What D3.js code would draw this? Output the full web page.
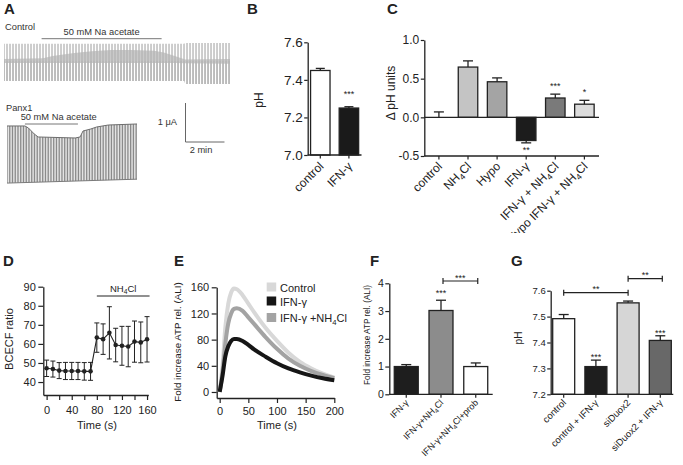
<!DOCTYPE html>
<html><head><meta charset="utf-8">
<script src="https://cdn.jsdelivr.net/npm/d3@7"></script>
<style>
body{margin:0;background:#fff}
svg{display:block}
text{font-family:Arial,"Liberation Sans",Helvetica,sans-serif;fill:#222}
</style>
</head><body>
<svg id="fig" width="683" height="465"></svg>
<script>
// ================= DATA =================
// Panel A – current recordings (time in min, current in µA)
const ctlEnvT   = [0, 9.25, 9.3, 11.6];
const ctlTop    = [0.44, 0.44, 0.46, 0.46];
const ctlBot    = [-0.51, -0.51, -0.59, -0.59];
const ctlBandT  = [0, 2.0, 2.5, 3.5, 4.5, 5.5, 6.5, 7.7, 8.2, 8.8, 9.3, 11.6];
const ctlBandHi = [0.05, 0.07, 0.13, 0.20, 0.25, 0.28, 0.28, 0.26, 0.22, 0.12, 0.04, 0.05];
const ctlBandLo = [-0.05, -0.05, -0.05, -0.05, -0.05, -0.05, -0.05, -0.05, -0.05, -0.05, -0.06, -0.07];
const ctlPulseMin = 0.154;
const ctlAcetate = [1.93, 8.09];
const panxT     = [0, 0.92, 1.1, 1.4, 1.6, 3.5, 3.75, 3.9, 4.3, 4.6, 5.2, 6.67];
const panxTop   = [0.744, 0.744, 0.692, 0.538, 0.462, 0.436, 0.462, 0.615, 0.667, 0.718, 0.769, 0.795];
const panxBotT  = [0, 6.67];
const panxBot   = [-0.72, -0.62];
const panxPulseMin = 0.141;
const panxAcetate = [0.92, 3.64];

// Panel B
const bCats = ["control", "IFN-γ"];
const bVals = [7.45, 7.25];
const bErrs = [0.011, 0.007];
const bTicks = [7.0, 7.2, 7.4, 7.6];

// Panel C
const cCats = ["control", "NH_4Cl", "Hypo", "IFN-γ", "IFN-γ + NH_4Cl", "Hypo IFN-γ + NH_4Cl"];
const cVals = [0, 0.65, 0.46, -0.30, 0.25, 0.17];
const cErrs = [0.07, 0.08, 0.05, 0.03, 0.05, 0.05];
const cStars = ["", "", "", "**", "***", "*"];
const cTicks = [-0.5, 0.0, 0.5, 1.0];

// Panel D
const dTime = [0, 10, 20, 30, 40, 50, 60, 70, 80, 90, 100, 110, 120, 130, 140, 150, 160];
const dVals = [47.2, 46.8, 46.0, 45.8, 45.8, 45.8, 45.6, 45.6, 63.3, 62.5, 65.8, 59.4, 59.0, 58.6, 61.2, 60.8, 62.4];
const dErrs = [4.3, 4.2, 4.2, 4.5, 4.5, 4.5, 4.6, 4.7, 7.7, 8.0, 13.7, 8.8, 10.2, 10.6, 10.8, 10.7, 11.9];
const dYTicks = [40, 50, 60, 70, 80, 90];
const dXTicks = [0, 20, 40, 60, 80, 100, 120, 140, 160];
const dNH4 = [80, 164];

// Panel E
const eTime    = [0, 5, 10, 15, 20, 25, 30, 40, 50, 60, 80, 100, 120, 140, 160, 180, 200];
const eControl = [0, 40, 100, 135, 152, 158, 157, 148, 135, 122, 98, 78, 60, 46, 36, 28, 22];
const eIFN     = [0, 25, 55, 70, 78, 81, 81, 78, 72, 65, 54, 44, 36, 30, 25, 21, 18];
const eIFNNH4  = [0, 30, 75, 105, 120, 127, 128, 124, 114, 104, 84, 66, 51, 40, 32, 26, 21];
const eSeries  = ["Control", "IFN-γ", "IFN-γ +NH_4Cl"];
const eYTicks = [0, 40, 80, 120, 160];
const eXTicks = [0, 50, 100, 150, 200];

// Panel F
const fCats = ["IFN-γ", "IFN-γ+NH_4Cl", "IFN-γ+NH_4Cl+prob"];
const fVals = [1.0, 3.02, 1.0];
const fErrs = [0.07, 0.37, 0.13];
const fStars = ["", "***", ""];
const fTicks = [0, 1, 2, 3, 4];

// Panel G
const gCats = ["control", "control + IFN-γ", "siDuox2", "siDuox2 + IFN-γ"];
const gVals = [7.492, 7.307, 7.553, 7.408];
const gErrs = [0.016, 0.025, 0.007, 0.018];
const gStars = ["", "***", "", "***"];
const gTicks = [7.2, 7.3, 7.4, 7.5, 7.6];

// ================= DRAWING =================
const svg = d3.select("#fig");
const INK = "#222";

function rich(sel, str, fs) {
  const parts = str.split(/(_\d)/).filter(p => p.length);
  let sub = false;
  parts.forEach(p => {
    if (p[0] === "_") {
      sel.append("tspan").attr("font-size", fs * 0.7).attr("dy", fs * 0.25).text(p.slice(1));
      sub = true;
    } else {
      const t = sel.append("tspan").text(p);
      if (sub) { t.attr("dy", -fs * 0.25); sub = false; }
    }
  });
  return sel;
}
function txt(x, y, str, fs, anchor, opts = {}) {
  const t = svg.append("text").attr("x", x).attr("y", y).attr("font-size", fs)
    .attr("text-anchor", anchor || "start");
  if (opts.bold) t.attr("font-weight", "bold");
  if (opts.fill) t.style("fill", opts.fill);
  rich(t, str, fs);
  return t;
}
function vtxt(x, y, str, fs) {
  const t = svg.append("text").attr("transform", `translate(${x},${y}) rotate(-90)`)
    .attr("font-size", fs).attr("text-anchor", "middle");
  rich(t, str, fs);
  return t;
}
function styleAxis(g, fs) {
  g.attr("font-family", null).attr("font-size", null);
  g.selectAll("path.domain").attr("stroke", INK).attr("stroke-width", 1.3);
  g.selectAll(".tick line").attr("stroke", INK).attr("stroke-width", 1.2);
  g.selectAll(".tick text").attr("font-size", fs).style("fill", INK);
}
function panelLabel(t, x, y) { txt(x, y, t, 15, "start", { bold: true }); }

// ---------- Panel A ----------
panelLabel("A", 4, 14);
const xCtl = d3.scaleLinear().domain([0, 11.6]).range([4, 230]);
const yCtl = d3.scaleLinear().domain([-1, 1]).range([100, 22]);
const xPx = d3.scaleLinear().domain([0, 6.67]).range([7, 137]);
const yPx = d3.scaleLinear().domain([-1, 1]).range([194, 116]);
const defs = svg.append("defs");

function envPath(tT, top, bT, bot, xs, ys) {
  const pts = tT.map((t, i) => [xs(t), ys(top[i])])
    .concat(bT.map((t, i) => [xs(t), ys(bot[i])]).reverse());
  return "M" + pts.map(p => p.join(",")).join("L") + "Z";
}
defs.append("clipPath").attr("id", "clipCtl").append("path")
  .attr("d", envPath(ctlEnvT, ctlTop, ctlEnvT, ctlBot, xCtl, yCtl));
defs.append("clipPath").attr("id", "clipPx").append("path")
  .attr("d", envPath(panxT, panxTop, panxBotT, panxBot, xPx, yPx));

txt(5, 29.5, "Control", 9.3, "start", { fill: "#333" });
txt(xCtl((ctlAcetate[0] + ctlAcetate[1]) / 2), 34.5, "50 mM Na acetate", 9.3, "middle", { fill: "#333" });
svg.append("line").attr("x1", xCtl(ctlAcetate[0])).attr("x2", xCtl(ctlAcetate[1]))
  .attr("y1", 38.7).attr("y2", 38.7).attr("stroke", "#777").attr("stroke-width", 1);

const gCtl = svg.append("g").attr("clip-path", "url(#clipCtl)");
const ctlPulses = d3.range(0, 11.6 + 1e-9, ctlPulseMin);
gCtl.selectAll("line.up").data(ctlPulses).join("line").attr("class", "up")
  .attr("x1", d => xCtl(d)).attr("x2", d => xCtl(d))
  .attr("y1", yCtl(1)).attr("y2", yCtl(0))
  .attr("stroke", "#9c9c9c").attr("stroke-width", 1);
gCtl.selectAll("line.dn").data(ctlPulses).join("line").attr("class", "dn")
  .attr("x1", d => xCtl(d)).attr("x2", d => xCtl(d))
  .attr("y1", yCtl(0)).attr("y2", yCtl(-1))
  .attr("stroke", "#7c7c7c").attr("stroke-width", 1);
const bandArea = d3.area().x((d, i) => xCtl(ctlBandT[i])).y0((d, i) => yCtl(ctlBandLo[i])).y1((d, i) => yCtl(ctlBandHi[i]));
svg.append("path").attr("d", bandArea(ctlBandT)).attr("fill", "#b4b4b4").attr("opacity", 0.7);

txt(6, 110.5, "Panx1", 9.3, "start", { fill: "#333" });
txt(20.7, 120.2, "50 mM Na acetate", 9.3, "start", { fill: "#333" });
svg.append("line").attr("x1", xPx(panxAcetate[0])).attr("x2", xPx(panxAcetate[1]))
  .attr("y1", 124).attr("y2", 124).attr("stroke", "#777").attr("stroke-width", 1);
const gPx = svg.append("g").attr("clip-path", "url(#clipPx)");
gPx.append("path").attr("d", envPath(panxT, panxTop, panxBotT, panxBot, xPx, yPx)).attr("fill", "#e4e4e4");
gPx.selectAll("line").data(d3.range(0, 6.67 + 1e-9, panxPulseMin)).join("line")
  .attr("x1", d => xPx(d)).attr("x2", d => xPx(d))
  .attr("y1", yPx(1)).attr("y2", yPx(-1))
  .attr("stroke", "#8a8a8a").attr("stroke-width", 1.3);
svg.append("path").attr("d", d3.line().x((d, i) => xPx(panxT[i])).y(d => yPx(d))(panxTop))
  .attr("fill", "none").attr("stroke", "#6d6d6d").attr("stroke-width", 1);
svg.append("path").attr("d", d3.line().x((d, i) => xPx(panxBotT[i])).y(d => yPx(d))(panxBot))
  .attr("fill", "none").attr("stroke", "#7a7a7a").attr("stroke-width", 1);

// scale bar (1 µA, 2 min)
const sbX = 185.5, sbY = 142;
const sbH = yPx(0) - yPx(1), sbW = xPx(2) - xPx(0);
svg.append("path").attr("d", `M${sbX},${sbY - sbH}V${sbY}H${sbX + sbW}`)
  .attr("fill", "none").attr("stroke", "#666").attr("stroke-width", 1);
txt(177, 125, "1 μA", 9.3, "end", { fill: "#333" });
txt(201, 153, "2 min", 9.3, "middle", { fill: "#333" });

// ---------- generic bar chart ----------
function barChart(o) {
  const x = d3.scaleBand().domain(o.cats).range([o.x0, o.x1]).paddingInner(o.pi).paddingOuter(o.po);
  const y = o.y;
  const base = o.base;
  o.cats.forEach((c, i) => {
    const v = o.vals[i];
    const y0 = y(base), y1 = y(v);
    if (Math.abs(y0 - y1) > 0.1) {
      svg.append("rect").attr("x", x(c)).attr("width", x.bandwidth())
        .attr("y", Math.min(y0, y1)).attr("height", Math.abs(y0 - y1))
        .attr("fill", o.fills[i]).attr("stroke", INK).attr("stroke-width", 1.3);
    }
    const cx = x(c) + x.bandwidth() / 2;
    const ve = v >= base ? v + o.errs[i] : v - o.errs[i];
    svg.append("line").attr("x1", cx).attr("x2", cx).attr("y1", y(v)).attr("y2", y(ve))
      .attr("stroke", INK).attr("stroke-width", 1.3);
    svg.append("line").attr("x1", cx - o.cap / 2).attr("x2", cx + o.cap / 2).attr("y1", y(ve)).attr("y2", y(ve))
      .attr("stroke", INK).attr("stroke-width", 1.3);
  });
  const ya = svg.append("g").attr("transform", `translate(${o.x0},0)`)
    .call(d3.axisLeft(y).tickValues(o.ticks).tickFormat(o.fmt).tickSize(o.ts).tickPadding(o.tp).tickSizeOuter(0));
  styleAxis(ya, o.fs);
  const xa = svg.append("g").attr("transform", `translate(0,${y.range()[0]})`);
  xa.append("line").attr("x1", o.x0).attr("x2", o.x1).attr("stroke", INK).attr("stroke-width", 1.3);
  o.cats.forEach(c => {
    const cx = x(c) + x.bandwidth() / 2;
    xa.append("line").attr("x1", cx).attr("x2", cx).attr("y1", 0).attr("y2", o.xts)
      .attr("stroke", INK).attr("stroke-width", 1.2);
  });
  const lg = svg.append("g");
  if (o.clip) lg.attr("clip-path", o.clip);
  o.cats.forEach(c => {
    const cx = x(c) + x.bandwidth() / 2;
    const t = lg.append("text").attr("font-size", o.lfs).attr("text-anchor", "end")
      .attr("transform", `translate(${cx + o.ldx},${y.range()[0] + o.ldy}) rotate(-45)`);
    rich(t, c, o.lfs);
  });
  return x;
}
function starsAt(x, y, s, fs) { if (s) txt(x, y, s, fs, "middle"); }

// ---------- Panel B ----------
panelLabel("B", 247, 14);
const yB = d3.scaleLinear().domain([7.0, 7.6]).range([155, 42.3]);
const xB = barChart({ cats: bCats, vals: bVals, errs: bErrs, fills: ["#fff", "#1a1a1a"], x0: 307.7, x1: 361.5,
  pi: 0.32, po: 0.1, y: yB, base: 7.0, ticks: bTicks, fmt: d => d.toFixed(1), ts: 3.5, tp: 1.5, fs: 13.5,
  cap: 9, xts: 3.5, lfs: 12, ldx: 4, ldy: 12 });
starsAt(xB("IFN-γ") + xB.bandwidth() / 2, 96.5, "***", 9);
vtxt(263, 100, "pH", 12);

// ---------- Panel C ----------
panelLabel("C", 387, 14);
defs.append("clipPath").attr("id", "clipC").append("rect").attr("x", 0).attr("y", 0).attr("width", 683).attr("height", 233);
const yC = d3.scaleLinear().domain([-0.5, 1.0]).range([156, 40]);
const xC = barChart({ cats: cCats, vals: cVals, errs: cErrs, fills: ["#fff", "#c4c4c4", "#a4a4a4", "#1c1c1c", "#7a7a7a", "#dcdcdc"],
  x0: 424.3, x1: 599, pi: 0.33, po: 0.167, y: yC, base: 0, ticks: cTicks, fmt: d => d.toFixed(1), ts: 3.5, tp: 1.5, fs: 12,
  cap: 10, xts: 3.5, lfs: 12, ldx: 4, ldy: 11, clip: "url(#clipC)" });
svg.append("line").attr("x1", 424.3).attr("x2", 599).attr("y1", yC(0)).attr("y2", yC(0)).attr("stroke", INK).attr("stroke-width", 1.2);
cCats.forEach((c, i) => {
  const cx = xC(c) + xC.bandwidth() / 2;
  if (!cStars[i]) return;
  if (cVals[i] >= 0) starsAt(cx, yC(cVals[i] + cErrs[i]) - 5, cStars[i], 9);
  else starsAt(cx, yC(cVals[i] - cErrs[i]) + 10, cStars[i], 9);
});
vtxt(395, 93, "Δ pH units", 12);

// ---------- Panel D ----------
panelLabel("D", 3, 266);
const xD = d3.scaleLinear().domain([-5.3, 162]).range([43.3, 148.3]);
const yD = d3.scaleLinear().domain([33.2, 90]).range([395, 286.7]);
const dya = svg.append("g").attr("transform", `translate(${xD.range()[0]},0)`)
  .call(d3.axisLeft(yD).tickValues(dYTicks).tickSize(5).tickPadding(2.5).tickSizeOuter(0));
styleAxis(dya, 11);
const dxa = svg.append("g").attr("transform", `translate(0,${yD.range()[0]})`)
  .call(d3.axisBottom(xD).tickValues(dXTicks).tickFormat(d => d % 40 === 0 ? d : "").tickSize(5).tickPadding(6.5).tickSizeOuter(0));
styleAxis(dxa, 11);
dTime.forEach((t, i) => {
  const cx = xD(t);
  svg.append("line").attr("x1", cx).attr("x2", cx).attr("y1", yD(dVals[i] - dErrs[i])).attr("y2", yD(dVals[i] + dErrs[i]))
    .attr("stroke", INK).attr("stroke-width", 1);
  [dVals[i] - dErrs[i], dVals[i] + dErrs[i]].forEach(v => {
    svg.append("line").attr("x1", cx - 2.5).attr("x2", cx + 2.5).attr("y1", yD(v)).attr("y2", yD(v))
      .attr("stroke", INK).attr("stroke-width", 1);
  });
});
svg.append("path").attr("d", d3.line().x((d, i) => xD(dTime[i])).y(d => yD(d))(dVals))
  .attr("fill", "none").attr("stroke", INK).attr("stroke-width", 1.1);
svg.selectAll("circle.dpt").data(dVals).join("circle").attr("class", "dpt")
  .attr("cx", (d, i) => xD(dTime[i])).attr("cy", d => yD(d)).attr("r", 2.3).attr("fill", INK);
svg.append("line").attr("x1", xD(dNH4[0])).attr("x2", xD(dNH4[1])).attr("y1", 296).attr("y2", 296)
  .attr("stroke", INK).attr("stroke-width", 1.2);
txt(xD((dNH4[0] + dNH4[1]) / 2), 291.5, "NH_4Cl", 9.5, "middle");
vtxt(13, 339, "BCECF ratio", 11);
txt(97, 429, "Time (s)", 11, "middle");

// ---------- Panel E ----------
panelLabel("E", 174, 266);
const xE = d3.scaleLinear().domain([-5.2, 200]).range([216.7, 334.3]);
const yE = d3.scaleLinear().domain([-9.2, 160]).range([398, 287.3]);
const eya = svg.append("g").attr("transform", `translate(${xE.range()[0]},0)`)
  .call(d3.axisLeft(yE).tickValues(eYTicks).tickSize(5).tickPadding(2.5).tickSizeOuter(0));
styleAxis(eya, 11);
const exa = svg.append("g").attr("transform", `translate(0,${yE.range()[0]})`)
  .call(d3.axisBottom(xE).tickValues(eXTicks).tickSize(5).tickPadding(4).tickSizeOuter(0));
styleAxis(exa, 11);
const eColors = ["#d8d8d8", "#161616", "#a3a3a3"];
const eData = [eControl, eIFN, eIFNNH4];
const eLine = d3.line().x((d, i) => xE(eTime[i])).y(d => yE(d)).curve(d3.curveMonotoneX);
[0, 2, 1].forEach(k => {
  svg.append("path").attr("d", eLine(eData[k])).attr("fill", "none")
    .attr("stroke", eColors[k]).attr("stroke-width", 4).attr("stroke-linejoin", "round");
});
eSeries.forEach((s, k) => {
  const yy = [291.5, 305.5, 322][k];
  svg.append("rect").attr("x", 266.7).attr("y", yy - 9).attr("width", 9.5).attr("height", 9).attr("fill", eColors[k]);
  txt(280, yy, s, 11, "start");
});
vtxt(180.5, 342, "Fold increase ATP rel. (ALI)", 9.8);
txt(277, 429, "Time (s)", 11, "middle");

// ---------- Panel F ----------
panelLabel("F", 370, 266);
const yF = d3.scaleLinear().domain([0, 4]).range([394.3, 283.3]);
const xF = barChart({ cats: fCats, vals: fVals, errs: fErrs, fills: ["#1e1e1e", "#8c8c8c", "#fff"],
  x0: 389.3, x1: 492.7, pi: 0.31, po: 0.143, y: yF, base: 0, ticks: fTicks, fmt: d3.format("d"), ts: 4, tp: 1.5, fs: 10.5,
  cap: 10, xts: 3.5, lfs: 9, ldx: 3, ldy: 9 });
fCats.forEach((c, i) => starsAt(xF(c) + xF.bandwidth() / 2, yF(fVals[i] + fErrs[i]) - 4, fStars[i], 9));
function bracket(xa, xb, y, s) {
  svg.append("line").attr("x1", xa).attr("x2", xb).attr("y1", y).attr("y2", y).attr("stroke", INK).attr("stroke-width", 1.2);
  [xa, xb].forEach(xx => svg.append("line").attr("x1", xx).attr("x2", xx).attr("y1", y - 3).attr("y2", y + 3)
    .attr("stroke", INK).attr("stroke-width", 1.2));
  txt((xa + xb) / 2, y - 0.5, s, 9, "middle");
}
const fc = c => xF(c) + xF.bandwidth() / 2;
bracket(fc(fCats[1]) + 2, fc(fCats[2]) + 2, 281, "***");
vtxt(370, 335, "Fold increase ATP rel. (ALI)", 8.2);

// ---------- Panel G ----------
panelLabel("G", 511, 266);
const yG = d3.scaleLinear().domain([7.2, 7.6]).range([394.3, 290.7]);
const xG = barChart({ cats: gCats, vals: gVals, errs: gErrs, fills: ["#fff", "#1e1e1e", "#d6d6d6", "#686868"],
  x0: 550.7, x1: 673.3, pi: 0.317, po: 0.062, y: yG, base: 7.2, ticks: gTicks, fmt: d => d.toFixed(1), ts: 3.5, tp: 1.5, fs: 9.5,
  cap: 10, xts: 3.5, lfs: 9.5, ldx: 3, ldy: 9 });
gCats.forEach((c, i) => starsAt(xG(c) + xG.bandwidth() / 2, yG(gVals[i] + gErrs[i]) + 0, gStars[i], 9));
const gc = c => xG(c) + xG.bandwidth() / 2;
bracket(gc(gCats[0]), gc(gCats[2]), 292.7, "**");
bracket(gc(gCats[2]), gc(gCats[3]) + 2, 278.7, "**");
vtxt(522, 338, "pH", 10);
</script>
</body></html>
